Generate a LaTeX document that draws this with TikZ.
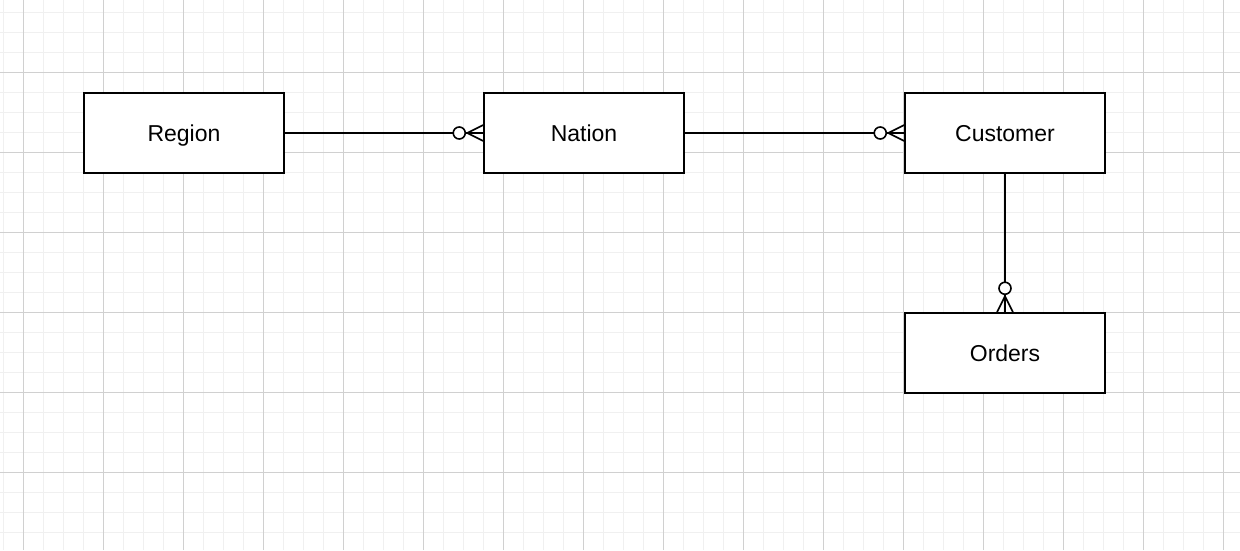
\documentclass[tikz,border=0pt]{standalone}
\usepackage{fontspec}
\setmainfont{Liberation Sans}
\definecolor{gridminor}{HTML}{F0F0F0}
\definecolor{gridmajor}{HTML}{D0D0D0}
\tikzset{
  entity/.style={draw=black, line width=1.5pt, fill=white, minimum width=200pt, minimum height=80pt, inner sep=0pt, text height=19pt, text depth=2pt, font=\fontsize{23}{27}\selectfont},
  conn/.style={draw=black, line width=1.6pt},
  minorgrid/.style={draw=gridminor, line width=1pt},
  majorgrid/.style={draw=gridmajor, line width=1pt}
}
\begin{document}
\begin{tikzpicture}[x=1pt,y=-1pt]
\fill[white] (0,0) rectangle (1240,550);
\useasboundingbox (0,0) rectangle (1240,550);
\foreach \x in {3,23,...,1240} \draw[minorgrid] (\x,0) -- (\x,550);
\foreach \y in {12,32,...,550} \draw[minorgrid] (0,\y) -- (1240,\y);
\foreach \x in {23,103,...,1240} \draw[majorgrid] (\x,0) -- (\x,550);
\foreach \y in {72,152,...,550} \draw[majorgrid] (0,\y) -- (1240,\y);

\node[entity] (region) at (184,133) {Region};
\node[entity] (nation) at (584,133) {Nation};
\node[entity] (customer) at (1005,133) {Customer};
\node[entity] (orders) at (1005,353) {Orders};

\draw[conn] (region.east) -- (nation.west);
\draw[conn] (nation.east) -- (customer.west);
\draw[conn] (customer.south) -- (orders.north);

\foreach \n in {nation,customer}{
  \begin{scope}[shift={(\n.west)}]
    \draw[conn] (-16,0) -- (0,-8) (-16,0) -- (0,0) (-16,0) -- (0,8);
    \draw[conn, fill=white] (-24,0) circle (6pt);
  \end{scope}
}
\begin{scope}[shift={(orders.north)}]
  \draw[conn] (0,-16) -- (-8,0) (0,-16) -- (0,0) (0,-16) -- (8,0);
  \draw[conn, fill=white] (0,-24) circle (6pt);
\end{scope}
\end{tikzpicture}
\end{document}
